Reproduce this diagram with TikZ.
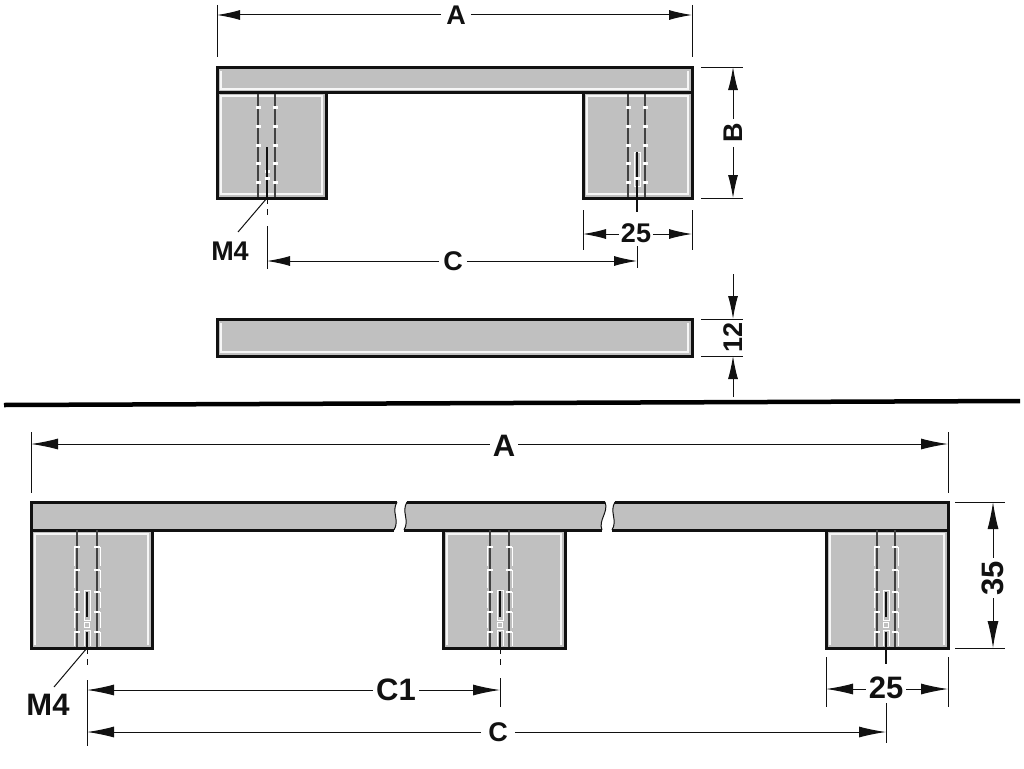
\documentclass[tikz,border=0pt]{standalone}
\usepackage{fontspec}
\setmainfont{Liberation Sans}
\usepackage{xcolor}
\usetikzlibrary{arrows.meta, calc}

\definecolor{ink}{HTML}{111111}
\definecolor{metal}{HTML}{C0C0C0}

\tikzset{
	outline/.style={draw=ink, line width=3pt},
	shine/.style={draw=white!85!metal, line width=1.2pt},
	hole/.style={draw=ink!80, line width=1.6pt},
	gap/.style={draw=white, line width=0.9pt},
	fine/.style={draw=ink, line width=1pt},
	dim/.style={fine, -{Latex[length=23pt,width=10pt]}},
	dimbig/.style={fine, -{Latex[length=27pt,width=11pt]}},
	centre/.style={fine, dash pattern=on 6pt off 5pt},
	lbl/.style={font=\fontsize{27}{27}\selectfont\bfseries, text=ink, inner sep=4pt},
	lblbig/.style={lbl, font=\fontsize{31}{31}\selectfont\bfseries, inner sep=3pt}
}

\begin{document}
\begin{tikzpicture}[x=1pt, y=-1pt]
		\useasboundingbox (0,0) rectangle (1024,768);
		
		% Upper handle, front view
		\fill[metal] (217,67) rectangle (692,198);
		\fill[white] (326,93) rectangle (583,199);
		\draw[shine] (221,71) -- (221,89) -- (688,89) -- (688,71);
		\draw[shine] (221,96) rectangle (322,194);
		\draw[shine] (587,96) rectangle (688,194);
		\foreach \hx in {258,275,628,645} {
			\draw[hole] (\hx,92) -- (\hx,198);
			\foreach \hy in {107,126,145,163,182}
				\draw[draw=white, line width=3pt] (\hx-2.5,\hy) -- (\hx+2.5,\hy);
		}
		\draw[outline] (217,67) rectangle (692,92);
		\draw[outline] (217,92) -- (217,198) -- (326,198) -- (326,92);
		\draw[outline] (583,92) -- (583,198) -- (692,198) -- (692,92);
		
		% Upper handle, profile
		\fill[metal] (217,319) rectangle (692,356);
		\draw[shine] (221,323) -- (221,352) -- (688,352) -- (688,323);
		\draw[outline] (217,319) rectangle (692,356);
		
		% Centre lines, upper
		\coordinate (upCL) at (267,147);
		\coordinate (upCLb) at (267,198);
		\coordinate (upCLe) at (267,217);
		\coordinate (upCR) at (637,152);
		\coordinate (upCRe) at (637,212);
		\draw[gap] (634,152) rectangle (640,186);
		\draw[draw=white, line width=3pt] (264.5,171) -- (269.5,171);
		\draw[fine, line width=1.3pt] (upCL) -- (upCLb);
		\draw[draw=white, line width=3pt] (264.5,178) -- (269.5,178);
		\draw[centre] (upCLb) -- (upCLe);
		\draw[fine, line width=1.3pt] (upCR) -- (upCRe);
		\draw[draw=white, line width=3pt] (634.5,178) -- (639.5,178);
		
		% Upper dimensions
		\node[lbl, inner sep=5pt] (nA) at (456,15) {A};
		\node[lbl, rotate=90] (nB) at (733,133) {B};
		\node[lbl] (nC) at (453,261) {C};
		\node[lbl, inner sep=2pt] (nTf) at (636,233) {25};
		\node[lbl, rotate=90, inner sep=2pt] (nTw) at (733,337) {12};
		\node[lbl, inner sep=0pt] (nMf) at (230,251) {M4};
		
		\coordinate (aL) at (217,15);
		\coordinate (aR) at (692,15);
		\coordinate (aLa) at (217,5);
		\coordinate (aLb) at (217,57);
		\coordinate (aRa) at (692,5);
		\coordinate (aRb) at (692,57);
		\draw[fine] (aLa) -- (aLb);
		\draw[fine] (aRa) -- (aRb);
		\draw[dim] (nA) -- (aL);
		\draw[dim] (nA) -- (aR);
		
		\coordinate (bT) at (733,67);
		\coordinate (bB) at (733,198);
		\coordinate (bTa) at (701,67);
		\coordinate (bTb) at (743,67);
		\coordinate (bBa) at (701,198);
		\coordinate (bBb) at (743,198);
		\draw[fine] (bTa) -- (bTb);
		\draw[fine] (bBa) -- (bBb);
		\draw[dim] (nB) -- (bT);
		\draw[dim] (nB) -- (bB);
		
		\coordinate (tfL) at (583,234);
		\coordinate (tfR) at (692,234);
		\coordinate (tfLa) at (583,210);
		\coordinate (tfLb) at (583,250);
		\coordinate (tfRa) at (692,210);
		\coordinate (tfRb) at (692,250);
		\draw[fine] (tfLa) -- (tfLb);
		\draw[fine] (tfRa) -- (tfRb);
		\draw[dim] (nTf.west |- tfL) -- (tfL);
		\draw[dim] (nTf.east |- tfR) -- (tfR);
		
		\coordinate (cL) at (267,261);
		\coordinate (cR) at (637,261);
		\coordinate (cLa) at (267,226);
		\coordinate (cLb) at (267,269);
		\coordinate (cRa) at (637,246);
		\coordinate (cRb) at (637,268);
		\draw[fine] (cLa) -- (cLb);
		\draw[fine] (cRa) -- (cRb);
		\draw[dim] (nC) -- (cL);
		\draw[dim] (nC) -- (cR);
		
		\coordinate (mfTip) at (238,232);
		\draw[fine] (upCLb) -- (mfTip);
		
		\coordinate (twT) at (733,319);
		\coordinate (twB) at (733,356);
		\coordinate (twTa) at (733,274);
		\coordinate (twBa) at (733,397);
		\coordinate (twTl) at (701,319);
		\coordinate (twTr) at (743,319);
		\coordinate (twBl) at (701,356);
		\coordinate (twBr) at (743,356);
		\draw[fine] (twTl) -- (twTr);
		\draw[fine] (twBl) -- (twBr);
		\draw[dim] (twTa) -- (twT);
		\draw[dim] (twBa) -- (twB);
		
		% Divider
		\coordinate (divL) at (4,405);
		\coordinate (divR) at (1020,401);
		\draw[draw=black, line width=4.5pt] (divL) -- (divR);
		
		% Lower handle, bar in three pieces
		\fill[metal] (31,502) -- (397,502) .. controls (391,512) and (400,520) .. (394,530) -- (31,530) -- cycle;
		\fill[metal] (407,502) -- (605,502) .. controls (609,512) and (598,520) .. (602,530) -- (404,530) .. controls (410,520) and (401,512) .. (407,502) -- cycle;
		\fill[metal] (615,502) -- (948,502) -- (948,530) -- (612,530) .. controls (618,520) and (609,512) .. (615,502) -- cycle;
		\draw[outline] (397,502) -- (31,502) -- (31,530) -- (394,530);
		\draw[outline] (407,502) -- (605,502);
		\draw[outline] (404,530) -- (602,530);
		\draw[outline] (615,502) -- (948,502) -- (948,530) -- (612,530);
		\draw[fine] (397,502) .. controls (391,512) and (400,520) .. (394,530);
		\draw[fine] (407,502) .. controls (401,512) and (410,520) .. (404,530);
		\draw[fine] (605,502) .. controls (609,512) and (598,520) .. (602,530);
		\draw[fine] (615,502) .. controls (609,512) and (618,520) .. (612,530);
		
		% Lower handle, legs
		\foreach \lx/\rx/\ha/\hb/\hc in {31/152/77/97/87, 443/565/490/509/500, 826/948/877/895/886} {
			\fill[metal] (\lx,532) rectangle (\rx,648);
			\draw[shine] (\lx+4,645) -- (\lx+4,534) -- (\rx-4,534) -- (\rx-4,645);
			\foreach \hx/\hs in {\ha/-3,\hb/3} {
				\draw[hole] (\hx,530) -- (\hx,648);
				\foreach \hy/\hz in {547/566,570/588,592/608,612/628,632/646} {
					\draw[draw=white, line width=2.5pt] (\hx-3,\hy) -- (\hx+3,\hy);
					\draw[gap] (\hx+\hs,\hy) -- (\hx+\hs,\hz);
				}
			}
			\draw[gap] (\hc-3,590) -- (\hc-3,620) -- (\hc+3,620) -- (\hc+3,590) -- cycle;
			\draw[gap] (\hc-2.5,622.5) rectangle (\hc+2.5,627.5);
			\draw[gap] (\hc-3,646) -- (\hc-3,630) -- (\hc+3,630) -- (\hc+3,646);
			\draw[outline] (\lx,530) -- (\lx,648) -- (\rx,648) -- (\rx,530);
		}
		
		% Centre lines, lower
		\coordinate (loCL) at (87,592);
		\coordinate (loCLm) at (87,617);
		\coordinate (loCLn) at (87,632);
		\coordinate (loCLb) at (87,648);
		\coordinate (loCLe) at (87,668);
		\coordinate (loCM) at (500,591);
		\coordinate (loCMm) at (500,617);
		\coordinate (loCMn) at (500,632);
		\coordinate (loCMb) at (500,648);
		\coordinate (loCMe) at (500,668);
		\coordinate (loCR) at (886,592);
		\coordinate (loCRm) at (886,617);
		\coordinate (loCRn) at (886,632);
		\coordinate (loCRe) at (886,664);
		\draw[fine, line width=1.8pt] (loCL) -- (loCLm);
		\draw[fine, line width=1.8pt] (loCLn) -- (loCLb);
		\draw[centre] (loCLb) -- (loCLe);
		\draw[fine, line width=1.8pt] (loCM) -- (loCMm);
		\draw[fine, line width=1.8pt] (loCMn) -- (loCMb);
		\draw[centre] (loCMb) -- (loCMe);
		\draw[fine, line width=1.8pt] (loCR) -- (loCRm);
		\draw[fine, line width=1.8pt] (loCRn) -- (loCRe);
		
		% Lower dimensions
		\node[lblbig] (nAlo) at (504,446) {A};
		\node[lblbig, rotate=90] (nTh) at (993,578) {35};
		\node[lblbig] (nCo) at (396,690) {C1};
		\node[lbl, inner sep=7pt] (nClo) at (498,732) {C};
		\node[lblbig] (nTflo) at (886,688) {25};
		\node[lblbig, inner sep=0pt] (nMflo) at (48,705) {M4};
		
		\coordinate (alL) at (31,444);
		\coordinate (alR) at (948,444);
		\coordinate (alLa) at (31,432);
		\coordinate (alLb) at (31,493);
		\coordinate (alRa) at (948,432);
		\coordinate (alRb) at (948,493);
		\draw[fine] (alLa) -- (alLb);
		\draw[fine] (alRa) -- (alRb);
		\draw[dimbig] (nAlo.west |- alL) -- (alL);
		\draw[dimbig] (nAlo.east |- alR) -- (alR);
		
		\coordinate (thT) at (993,502);
		\coordinate (thB) at (993,648);
		\coordinate (thTa) at (955,502);
		\coordinate (thTb) at (1005,502);
		\coordinate (thBa) at (955,648);
		\coordinate (thBb) at (1005,648);
		\draw[fine] (thTa) -- (thTb);
		\draw[fine] (thBa) -- (thBb);
		\draw[dimbig] (nTh) -- (thT);
		\draw[dimbig] (nTh) -- (thB);
		
		\coordinate (tlL) at (826,689);
		\coordinate (tlR) at (948,689);
		\coordinate (tlLa) at (826,657);
		\coordinate (tlLb) at (826,707);
		\coordinate (tlRa) at (948,657);
		\coordinate (tlRb) at (948,707);
		\draw[fine] (tlLa) -- (tlLb);
		\draw[fine] (tlRa) -- (tlRb);
		\draw[dimbig] (nTflo.west |- tlL) -- (tlL);
		\draw[dimbig] (nTflo.east |- tlR) -- (tlR);
		
		\coordinate (extLa) at (87,680);
		\coordinate (extLb) at (87,746);
		\coordinate (extMa) at (500,678);
		\coordinate (extMb) at (500,707);
		\coordinate (extRa) at (886,703);
		\coordinate (extRb) at (886,743);
		\draw[fine] (extLa) -- (extLb);
		\draw[fine] (extMa) -- (extMb);
		\draw[fine] (extRa) -- (extRb);
		
		\coordinate (coL) at (87,690);
		\coordinate (coR) at (500,690);
		\coordinate (clL) at (87,732);
		\coordinate (clR) at (886,732);
		\draw[dimbig] (nCo) -- (coL);
		\draw[dimbig] (nCo) -- (coR);
		\draw[dimbig] (nClo) -- (clL);
		\draw[dimbig] (nClo) -- (clR);
		
		\coordinate (mlTip) at (54,687);
		\draw[fine] (loCLb) -- (mlTip);
	\end{tikzpicture}
\end{document}
